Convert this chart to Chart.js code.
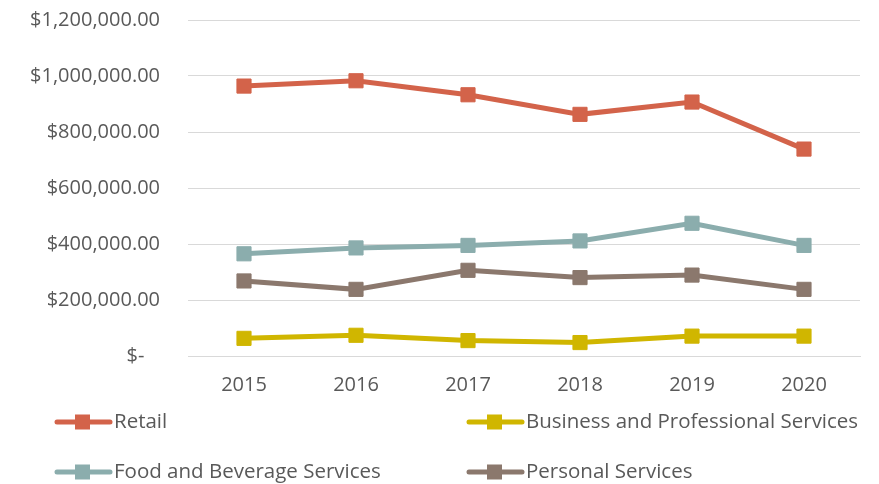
<!DOCTYPE html>
<html>
<head>
<meta charset="utf-8">
<script src="https://cdn.jsdelivr.net/npm/chart.js@4/dist/chart.umd.min.js"></script>
<style>
html,body{margin:0;padding:0;background:#fff;}
#wrap{width:879px;height:484px;position:relative;}
</style>
</head>
<body>
<div id="wrap"><canvas id="c" width="879" height="484"></canvas></div>
<script>
const years = ["2015","2016","2017","2018","2019","2020"];
const retail = [964000, 983000, 933000, 863000, 907000, 739000];
const business = [63000, 74000, 55000, 48000, 71000, 71000];
const foodBeverage = [365000, 386000, 395000, 411000, 474000, 395000];
const personal = [268000, 238000, 306000, 280000, 289000, 238000];
const seriesNames = ["Retail", "Business and Professional Services", "Food and Beverage Services", "Personal Services"];
const seriesColors = ["#D3634A", "#D0B600", "#8BADAD", "#8B786D"];

const FONT = '"Open Sans", sans-serif';
const TXT = '#595959';

function fmt(v){
  if (v === 0) return '$-   ';
  return '$' + v.toLocaleString('en-US', {minimumFractionDigits:2, maximumFractionDigits:2});
}

const allData = [retail, business, foodBeverage, personal];
const datasets = allData.map((d,i)=>({
  label: seriesNames[i],
  data: d,
  borderColor: seriesColors[i],
  backgroundColor: seriesColors[i],
  borderWidth: 5,
  pointStyle: 'rect',
  pointRadius: 10,
  pointHoverRadius: 10,
  pointBorderWidth: 1,
  pointBorderColor: seriesColors[i],
  pointBackgroundColor: seriesColors[i],
  tension: 0,
  fill: false
}));

// custom 2-column legend drawn on the canvas
const legendPlugin = {
  id: 'gridLegend',
  afterDraw(chart){
    const ctx = chart.ctx;
    const cols = [55, 467];
    const rows = [422, 472];
    ctx.save();
    chart.data.datasets.forEach((ds, i)=>{
      const x = cols[i % 2];
      const y = rows[Math.floor(i / 2)];
      ctx.strokeStyle = ds.borderColor;
      ctx.lineWidth = 5;
      ctx.lineCap = 'round';
      ctx.beginPath();
      ctx.moveTo(x + 2, y);
      ctx.lineTo(x + 55, y);
      ctx.stroke();
      ctx.fillStyle = ds.borderColor;
      ctx.fillRect(x + 20, y - 7.5, 15, 15);
      ctx.fillStyle = TXT;
      ctx.font = '20.5px ' + FONT;
      ctx.textAlign = 'left';
      ctx.textBaseline = 'middle';
      ctx.fillText(ds.label, x + 59, y);
    });
    ctx.restore();
  }
};

new Chart(document.getElementById('c'), {
  type: 'line',
  data: { labels: years, datasets },
  plugins: [legendPlugin],
  options: {
    responsive: false,
    animation: false,
    devicePixelRatio: 1,
    layout: { padding: { left: 0, right: 19, top: 20, bottom: 0 } },
    plugins: { legend: { display: false }, tooltip: { enabled: false } },
    scales: {
      x: {
        offset: true,
        grid: { display: false, drawTicks: false },
        border: { display: true, color: '#D9D9D9', width: 1 },
        ticks: { color: TXT, font: { family: FONT, size: 20 }, padding: 17 },
        afterFit(scale){ scale.height = 128; }
      },
      y: {
        min: 0, max: 1200000,
        ticks: { stepSize: 200000, color: TXT, font: { family: FONT, size: 20 }, padding: 0, callback: v => fmt(v) },
        grid: { color: '#D9D9D9', lineWidth: 1, drawTicks: true, tickLength: 28, tickColor: 'rgba(0,0,0,0)' },
        border: { display: false },
        afterFit(scale){ scale.width = 188; }
      }
    }
  }
});
</script>
</body>
</html>
